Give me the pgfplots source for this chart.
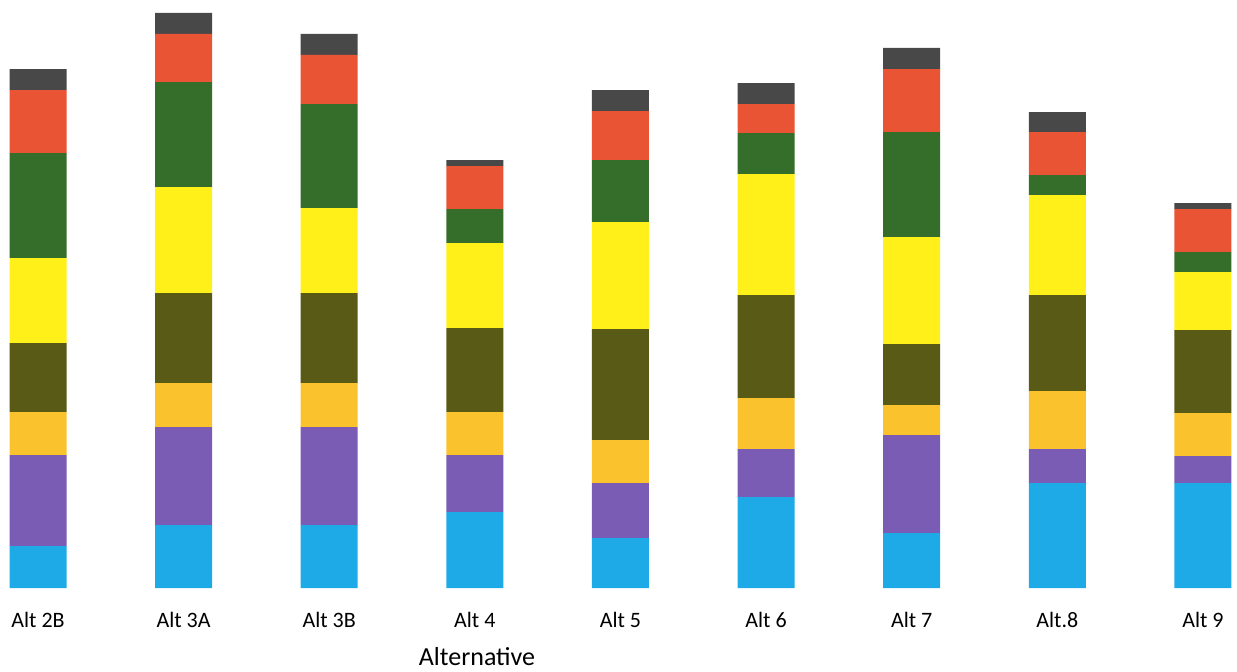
\documentclass[border=0pt]{standalone}
\usepackage{fontspec}
\setmainfont{Carlito}
\usepackage{pgfplots}
\usepackage{pgfplotstable}
\pgfplotsset{compat=1.18}

\definecolor{cblue}{RGB}{30,170,230}
\definecolor{cpurple}{RGB}{122,92,180}
\definecolor{corange}{RGB}{250,195,45}
\definecolor{colive}{RGB}{88,90,22}
\definecolor{cyellow}{RGB}{255,240,25}
\definecolor{cgreen}{RGB}{52,110,42}
\definecolor{cred}{RGB}{232,84,52}
\definecolor{cgray}{RGB}{72,72,72}

% segment heights, bottom to top
\pgfplotstableread{
x blue purple orange olive yellow green red gray
0 42  91 43  69  85 105 63 21
1 63  98 44  90 106 105 48 21
2 63  98 44  90  85 104 49 21
3 76  57 43  84  85  34 43  6
4 50  55 43 111 107  62 49 21
5 91  48 51 103 121  41 29 21
6 55  98 30  61 107 105 63 21
7 105 34 58  96 100  20 43 20
8 105 27 43  83  58  20 43  6
}\alts

\begin{document}
\begin{tikzpicture}
\begin{axis}[
    at={(0,0)}, anchor=south west,
    scale only axis,
    width=618.5pt, height=294pt,
    ybar stacked,
    bar width=28.5pt,
    xmin=-0.261, xmax=8.234,
    ymin=0, ymax=588,
    axis y line=none,
    x axis line style={draw=none},
    major tick length=0pt,
    xtick=data,
    xticklabels={Alt 2B, Alt 3A, Alt 3B, Alt 4, Alt 5, Alt 6, Alt 7, Alt.8, Alt 9},
    xticklabel style={font=\fontsize{11}{13}\selectfont, anchor=center, yshift=-16pt},
    xlabel={Alternative},
    xlabel style={font=\fontsize{13}{15}\selectfont, at={(rel axis cs:0.3856,0)}, anchor=center, yshift=-34.5pt},
    every axis plot/.append style={draw=none},
]
\addplot[fill=cblue]   table[x=x, y=blue]   {\alts};
\addplot[fill=cpurple] table[x=x, y=purple] {\alts};
\addplot[fill=corange] table[x=x, y=orange] {\alts};
\addplot[fill=colive]  table[x=x, y=olive]  {\alts};
\addplot[fill=cyellow] table[x=x, y=yellow] {\alts};
\addplot[fill=cgreen]  table[x=x, y=green]  {\alts};
\addplot[fill=cred]    table[x=x, y=red]    {\alts};
\addplot[fill=cgray]   table[x=x, y=gray]   {\alts};
\end{axis}
\pgfresetboundingbox
\path (0,-41.5pt) rectangle (618.5pt,294pt);
\end{tikzpicture}
\end{document}
